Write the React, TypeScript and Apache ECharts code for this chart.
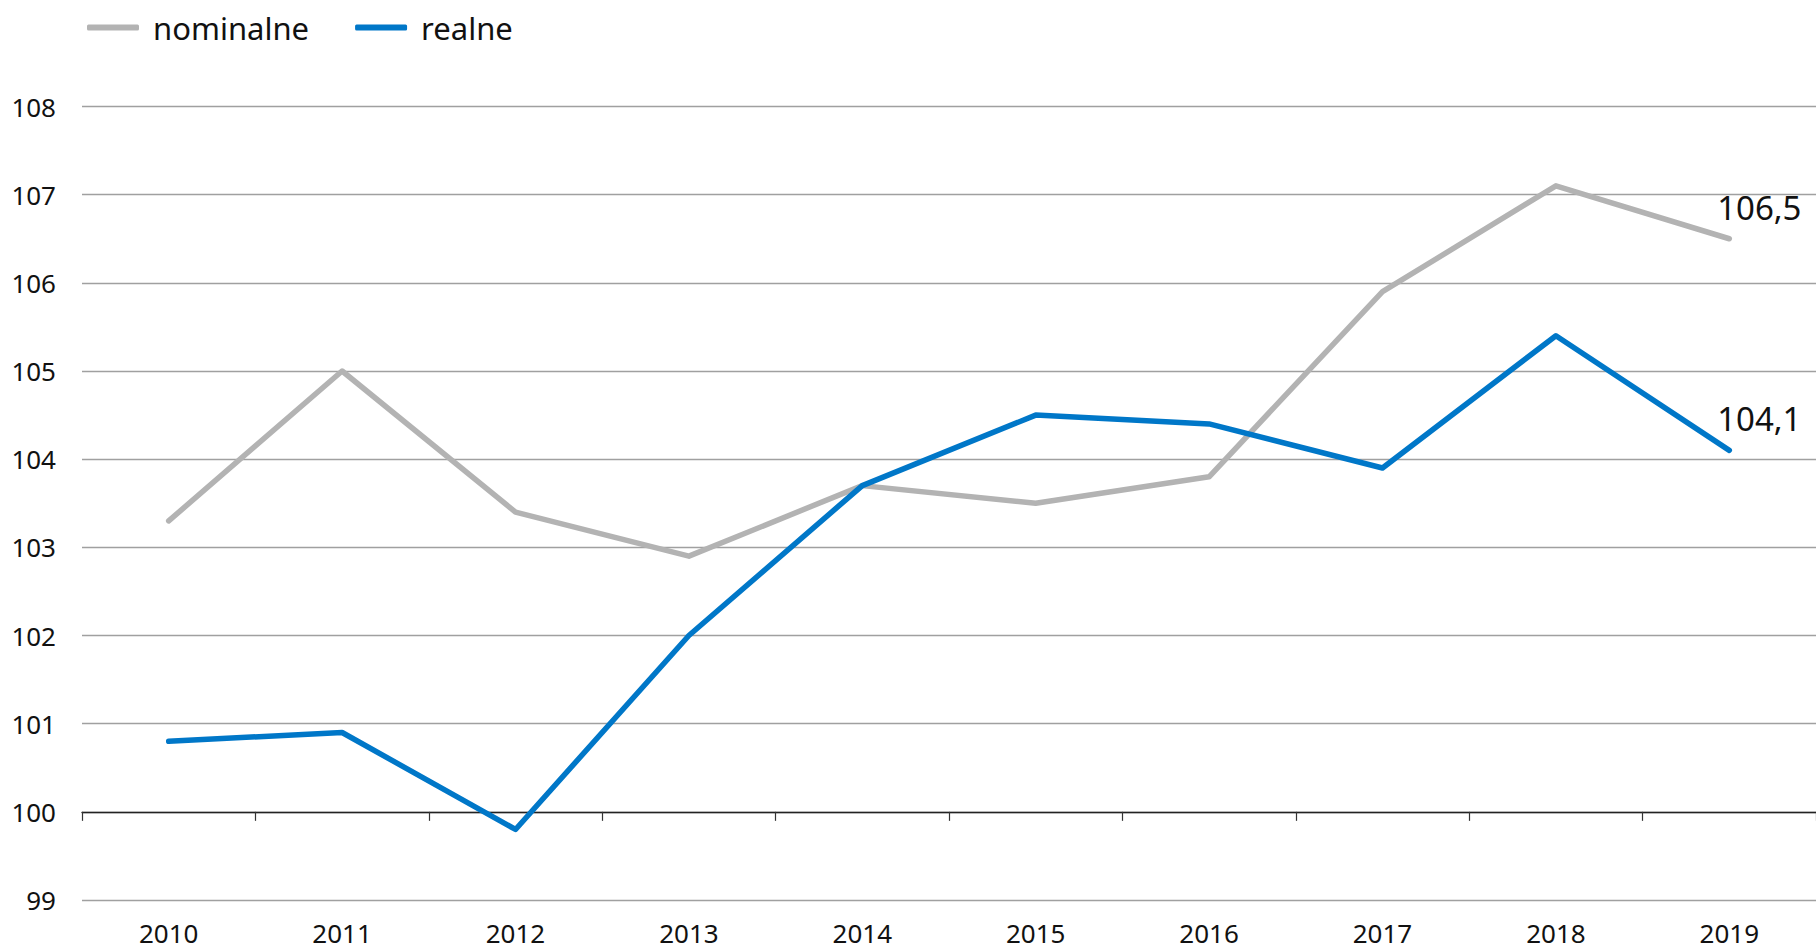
import React, { useEffect, useRef } from "react";
import * as echarts from "echarts";

const years = ["2010", "2011", "2012", "2013", "2014", "2015", "2016", "2017", "2018", "2019"];
const nominalne = [103.3, 105.0, 103.4, 102.9, 103.7, 103.5, 103.8, 105.9, 107.1, 106.5];
const realne = [100.8, 100.9, 99.8, 102.0, 103.7, 104.5, 104.4, 103.9, 105.4, 104.1];
const seriesNames = ["nominalne", "realne"];
const yMin = 99;
const yMax = 108;

const FONT = "Noto Sans";

function withEndLabel(values: number[]) {
  const last = values.length - 1;
  return values.map((v, i) =>
    i === last
      ? {
          value: v,
          label: {
            show: true,
            position: "top",
            distance: 5,
            offset: [30, -10],
            fontFamily: FONT,
            fontSize: 33,
            lineHeight: 33,
            color: "#111",
            formatter: (p: any) => String(p.value).replace(".", ","),
          },
        }
      : v
  );
}

export default function App() {
  const ref = useRef<HTMLDivElement>(null);
  useEffect(() => {
    if (!ref.current) return;
    const chart = echarts.init(ref.current, undefined, { renderer: "svg" });
    const gridTop = 106.5;
    const gridBottom = 51;
    const plotH = 951 - gridTop - gridBottom;
    const perUnit = plotH / (yMax - yMin);
    chart.setOption({
      animation: false,
      backgroundColor: "#ffffff",
      textStyle: { fontFamily: FONT },
      legend: {
        left: 82,
        top: 7,
        itemWidth: 52,
        itemHeight: 6,
        itemGap: 46,
        icon: "roundRect",
        textStyle: { fontFamily: FONT, fontSize: 31, color: "#111", padding: [0, 0, 0, 9] },
        data: seriesNames,
      },
      grid: { left: 82, width: 1738, top: gridTop, bottom: gridBottom, containLabel: false },
      xAxis: [
        {
          type: "category",
          data: years,
          boundaryGap: true,
          axisLine: { show: false },
          axisTick: { show: false },
          axisLabel: { fontFamily: FONT, fontSize: 26, lineHeight: 26, color: "#111", margin: 20 },
          splitLine: { show: false },
        },
        {
          type: "category",
          data: years,
          boundaryGap: true,
          position: "bottom",
          offset: -perUnit * (100 - yMin),
          axisLine: { show: true, lineStyle: { color: "#222", width: 1.3 } },
          axisTick: { show: true, length: 9, lineStyle: { color: "#333", width: 1.2 } },
          axisLabel: { show: false },
          splitLine: { show: false },
        },
      ],
      yAxis: {
        type: "value",
        min: yMin,
        max: yMax,
        interval: 1,
        axisLine: { show: false },
        axisTick: { show: false },
        axisLabel: { fontFamily: FONT, fontSize: 26, color: "#111", margin: 26 },
        splitLine: { show: true, lineStyle: { color: "#a0a0a0", width: 1.3 } },
      },
      series: [
        {
          name: seriesNames[0],
          type: "line",
          data: withEndLabel(nominalne),
          symbol: "circle",
          symbolSize: 0,
          showSymbol: true,
          showAllSymbol: true,
          color: "#b3b3b3",
          lineStyle: { color: "#b3b3b3", width: 5.5, cap: "round", join: "round" },
          itemStyle: { color: "#b3b3b3" },
          z: 3,
        },
        {
          name: seriesNames[1],
          type: "line",
          data: withEndLabel(realne),
          symbol: "circle",
          symbolSize: 0,
          showSymbol: true,
          showAllSymbol: true,
          color: "#0077c8",
          lineStyle: { color: "#0077c8", width: 5.5, cap: "round", join: "round" },
          itemStyle: { color: "#0077c8" },
          z: 4,
        },
      ],
    });
    return () => chart.dispose();
  }, []);
  return (
    <div
      ref={ref}
      style={{ position: "fixed", left: 0, top: 0, width: "1816px", height: "951px" }}
    />
  );
}
